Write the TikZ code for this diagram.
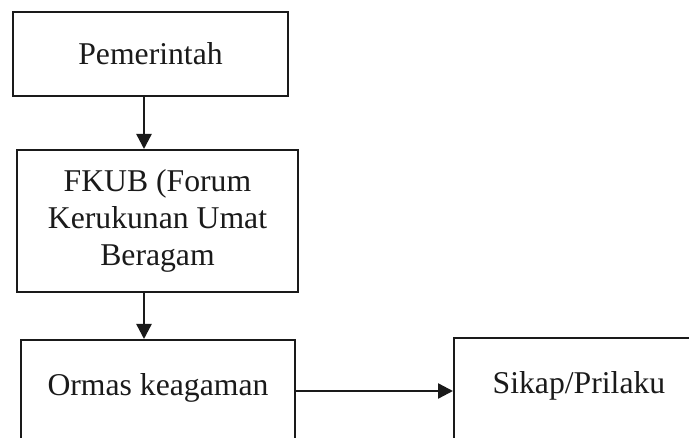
\documentclass[tikz,border=0pt]{standalone}
\usepackage{fontspec}
\setmainfont{Liberation Serif}
\usetikzlibrary{arrows.meta}
\definecolor{ink}{HTML}{1A1A1A}
\begin{document}
\begin{tikzpicture}[x=1pt,y=-1pt,
  box/.style={draw=ink, line width=2pt, text=ink, inner sep=0pt, align=center,
    font=\fontsize{31.7}{37}\selectfont},
  arr/.style={draw=ink, line width=2.4pt, -{Triangle[length=15pt,width=15pt]}}]
\useasboundingbox (0,0) rectangle (689,438);
\clip (0,0) rectangle (689,438);
\fill[white] (0,0) rectangle (689,438);
\node[box, anchor=north west, minimum width=275pt, minimum height=84pt] (pem) at (12,11) {Pemerintah};
\node[box, anchor=north west, minimum width=281pt, minimum height=142pt] (fkub) at (16,149) {FKUB (Forum\\Kerukunan Umat\\Beragam};
\node[box, anchor=north west, minimum width=274pt, text height=56pt, text depth=80pt] (ormas) at (20,339) {Ormas keagaman};
\node[box, anchor=north west, minimum width=250pt, text height=56pt, text depth=80pt] (sikap) at (453,337) {Sikap/Prilaku};
\coordinate (vx) at (144,0);
\coordinate (hy) at (0,391);
\draw[arr] (vx |- pem.south) -- (vx |- fkub.north);
\draw[arr] (vx |- fkub.south) -- (vx |- ormas.north);
\draw[arr] (ormas.east |- hy) -- (sikap.west |- hy);
\end{tikzpicture}
\end{document}
